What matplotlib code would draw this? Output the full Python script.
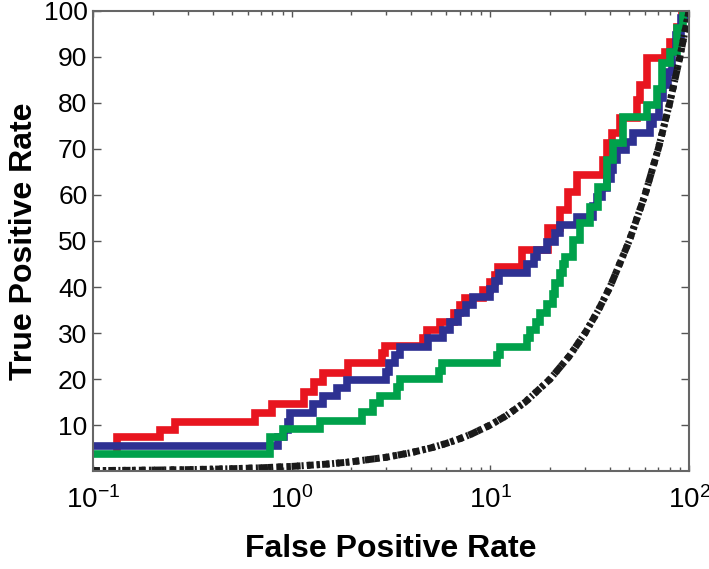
import numpy as np
import matplotlib
matplotlib.use('Agg')
import matplotlib.pyplot as plt
from matplotlib.ticker import LogLocator, NullFormatter

plt.rcParams['font.family'] = ['Liberation Sans', 'DejaVu Sans']
plt.rcParams['mathtext.fontset'] = 'custom'
plt.rcParams['mathtext.rm'] = 'Liberation Sans'
plt.rcParams['mathtext.it'] = 'Liberation Sans'

# ROC staircases (false positive rate %, true positive rate %)
red_fpr = [0.132, 0.132, 0.217, 0.259, 0.653, 0.796, 1.15, 1.29, 1.44, 1.92, 2.85, 2.95,
           4.58, 4.80, 5.6, 6.6, 7.0, 7.45, 9.18, 9.95, 10.5, 10.9, 14.4, 19.4, 22.3,
           24.6, 27.3, 36.9, 38.6, 40.8, 44.9, 54.7, 56.6, 61.4, 75.6, 80.1, 86.9, 92.0]
red_tpr = [4.5, 7.4, 8.9, 10.7, 12.6, 14.5, 17.2, 19.3, 21.3, 23.5, 25.7, 27.2,
           28.9, 30.7, 32.5, 34.3, 36.0, 37.6, 39.3, 41.0, 42.7, 44.3, 48.0, 52.8, 56.7,
           60.7, 64.3, 67.6, 71.3, 73.5, 76.7, 80.6, 83.9, 89.8, 91.0, 93.3, 96.5, 100.0]

blue_fpr = [0.05, 0.85, 0.92, 0.96, 0.98, 1.28, 1.44, 1.69, 1.9, 3.0, 3.1, 3.3, 3.5,
            4.85, 5.8, 6.3, 6.9, 7.5, 8.2, 9.95, 10.6, 11.0, 15.3, 16.5, 17.2, 19.3,
            21.1, 22.5, 27.3, 32.8, 34.5, 36.5, 38.6, 40.5, 41.4, 43.4, 48.0, 52.0,
            63.5, 66.0, 71.0, 74.0, 78.0, 82.0, 86.0, 91.0, 95.0]
blue_tpr = [5.4, 7.4, 9.0, 10.7, 12.6, 14.5, 16.2, 18.0, 19.8, 21.5, 23.5, 25.2, 27.0,
            28.9, 30.7, 32.5, 34.3, 36.0, 37.8, 39.5, 41.3, 43.0, 45.0, 46.5, 48.0, 49.8,
            51.7, 53.5, 55.2, 57.5, 59.6, 61.5, 63.5, 65.5, 67.6, 69.8, 71.5, 73.5,
            75.5, 77.0, 81.0, 84.0, 86.7, 91.0, 94.8, 98.5, 100.0]

green_fpr = [0.05, 0.78, 0.9, 1.39, 2.26, 2.56, 2.78, 3.4, 3.5, 5.5, 5.7, 10.8, 11.2,
             15.3, 15.9, 17.0, 17.8, 19.3, 20.6, 21.1, 22.3, 23.2, 23.7, 26.0, 28.2,
             31.7, 34.9, 38.6, 41.4, 46.5, 61.4, 69.0, 73.2, 80.1, 86.9, 93.0]
green_tpr = [3.6, 7.4, 9.1, 10.9, 12.8, 14.8, 16.4, 18.3, 20.0, 21.8, 23.5, 25.2, 27.0,
             28.9, 30.7, 32.5, 34.3, 36.3, 38.5, 40.9, 43.0, 45.0, 46.5, 50.2, 53.9,
             57.4, 61.7, 67.6, 71.3, 77.0, 79.6, 83.0, 88.7, 91.0, 96.3, 100.0]

# chance diagonal (TPR = FPR)
chance_fpr = [0.1, 0.15, 0.2, 0.3, 0.4, 0.5, 0.7, 1, 1.5, 2, 3, 4, 5, 6, 7, 8, 10,
              12, 15, 20, 25, 30, 35, 40, 50, 60, 70, 80, 90, 100]
chance_tpr = [0.1, 0.15, 0.2, 0.3, 0.4, 0.5, 0.7, 1, 1.5, 2, 3, 4, 5, 6, 7, 8, 10,
              12, 15, 20, 25, 30, 35, 40, 50, 60, 70, 80, 90, 100]

yticks = [10, 20, 30, 40, 50, 60, 70, 80, 90, 100]

fig = plt.figure(figsize=(7.09, 5.69), dpi=100)
ax = fig.add_axes([0.1312, 0.1722, 0.8406, 0.8085])

lw = 5.5
ax.step(red_fpr, red_tpr, where='post', color='#e8151f', linewidth=lw,
        solid_joinstyle='miter')
ax.step(blue_fpr, blue_tpr, where='post', color='#2e3192', linewidth=lw,
        solid_joinstyle='miter')
ax.step(green_fpr, green_tpr, where='post', color='#00a14b', linewidth=lw,
        solid_joinstyle='miter')
ax.plot(chance_fpr, chance_tpr, color='#1a1a1a', linewidth=5.0,
        linestyle=(0, (0.5, 0.9)))
ax.plot(chance_fpr, chance_tpr, color='#1a1a1a', linewidth=5.0,
        linestyle=(0, (1.0, 0.45, 0.3, 0.45)))

ax.set_xscale('log')
ax.set_xlim(0.1, 100)
ax.set_ylim(0, 100)
ax.set_yticks(yticks)
ax.set_xticks([0.1, 1, 10, 100])
ax.set_xticklabels([r'$10^{-1}$', r'$10^{0}$', r'$10^{1}$', r'$10^{2}$'])
ax.xaxis.set_minor_locator(LogLocator(base=10, subs=np.arange(2, 10)))
ax.xaxis.set_minor_formatter(NullFormatter())

ax.tick_params(axis='both', which='major', direction='in', top=True, right=True,
               color='#555555', width=1.0)
ax.tick_params(axis='y', which='major', length=6, labelsize=19, pad=4)
ax.tick_params(axis='x', which='major', length=4, labelsize=20, pad=11)
ax.tick_params(axis='x', which='minor', direction='in', top=True, length=3,
               color='#555555', width=1.0)
for s in ax.spines.values():
    s.set_color('#666666')
    s.set_linewidth(1.5)

ax.set_xlabel('False Positive Rate', fontsize=23, fontweight='bold', labelpad=14)
ax.set_ylabel('True Positive Rate', fontsize=23, fontweight='bold', labelpad=3)

fig.savefig('out.png', dpi=100)
